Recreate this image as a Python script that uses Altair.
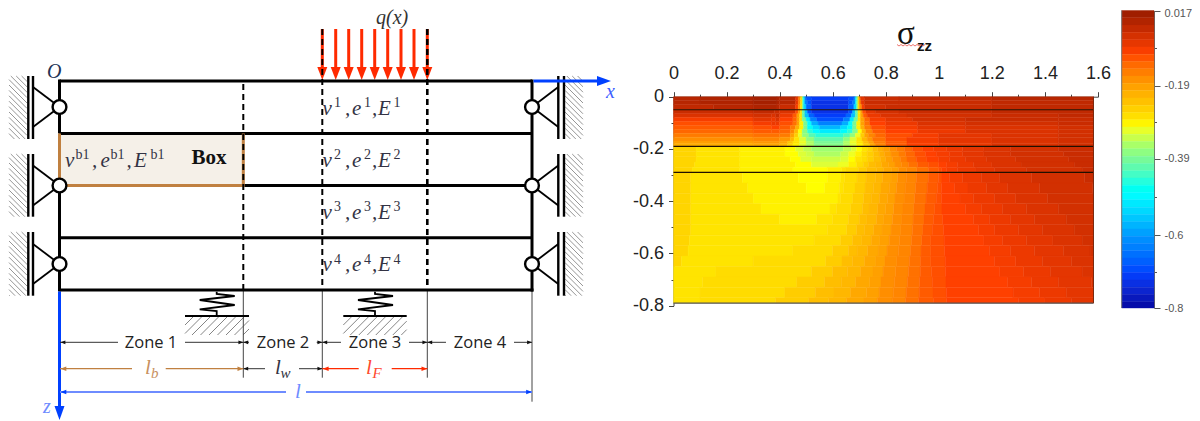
import altair as alt
import pandas as pd

# ---------- contour plot data: stress (x100) in bands, one list per depth row ----------
row_edges = [0, .015, .03, .05, .065, .08, .095, .11, .125, .14, .155, .17, .18, .19, .21, .23, .25, .27, .29,
             .33, .37, .41, .45, .49, .53, .57, .61, .65, .69, .73, .77, .79]
band_rows = [
 [(.1,-1),(.3,0),(.39,1),(.40,0),(.46,-1),(.47,-6),(.478,-14),(.485,-26),(.49,-38),(.495,-50),(.50,-62),(.52,-68),(.66,-70),(.68,-68),(.685,-62),(.69,-50),(.695,-38),(.70,-26),(.705,-14),(.72,-6),(.85,-3),(1.2,-2),(1.583,-1)],
 [(.1,-1),(.3,0),(.39,1),(.40,0),(.46,-1),(.47,-6),(.478,-14),(.485,-26),(.49,-38),(.495,-50),(.505,-62),(.52,-68),(.66,-72),(.675,-68),(.685,-62),(.69,-50),(.695,-38),(.70,-26),(.707,-14),(.72,-6),(.85,-3),(1.2,-3),(1.583,-2)],
 [(.15,-2),(.3,-1),(.39,0),(.40,-1),(.46,-3),(.47,-8),(.478,-16),(.485,-27),(.49,-38),(.5,-52),(.52,-66),(.66,-72),(.68,-66),(.69,-52),(.695,-38),(.70,-27),(.71,-16),(.72,-8),(.8,-4),(1.2,-3),(1.583,-2)],
 [(.3,-3),(.38,-2),(.40,-3),(.46,-5),(.47,-10),(.478,-18),(.485,-27),(.495,-40),(.505,-55),(.52,-68),(.66,-72),(.675,-68),(.685,-55),(.695,-40),(.705,-27),(.712,-18),(.725,-10),(.76,-6),(.85,-4),(1.2,-3),(1.583,-2)],
 [(.3,-5),(.37,-4),(.385,-5),(.40,-3),(.45,-7),(.465,-11),(.475,-18),(.485,-27),(.495,-40),(.51,-55),(.53,-66),(.65,-70),(.67,-66),(.685,-55),(.695,-40),(.705,-27),(.715,-18),(.73,-11),(.78,-7),(.88,-5),(1.2,-4),(1.45,-3),(1.583,-2)],
 [(.3,-8),(.37,-6),(.385,-7),(.40,-5),(.45,-9),(.465,-12),(.475,-18),(.485,-27),(.5,-38),(.515,-50),(.54,-62),(.64,-68),(.665,-62),(.68,-50),(.695,-38),(.705,-27),(.72,-18),(.74,-12),(.8,-8),(.9,-6),(1.1,-4),(1.45,-3),(1.583,-3)],
 [(.3,-10),(.37,-8),(.385,-7),(.40,-7),(.45,-10),(.465,-13),(.475,-18),(.49,-28),(.505,-38),(.52,-48),(.545,-57),(.635,-62),(.66,-57),(.675,-48),(.69,-38),(.705,-28),(.72,-18),(.74,-13),(.8,-9),(.92,-7),(1.1,-5),(1.45,-4),(1.583,-3)],
 [(.3,-11),(.37,-10),(.40,-9),(.44,-11),(.46,-14),(.475,-20),(.49,-28),(.505,-38),(.525,-47),(.55,-52),(.63,-56),(.655,-52),(.675,-47),(.69,-38),(.705,-28),(.72,-20),(.745,-14),(.8,-10),(.92,-8),(1.1,-6),(1.45,-5),(1.583,-4)],
 [(.3,-12),(.37,-11),(.40,-11),(.44,-12),(.455,-15),(.47,-21),(.485,-29),(.505,-37),(.525,-44),(.55,-48),(.63,-50),(.655,-48),(.675,-44),(.695,-37),(.71,-29),(.725,-21),(.75,-15),(.8,-11),(.92,-9),(1.1,-7),(1.45,-5),(1.583,-4)],
 [(.3,-14),(.4,-13),(.44,-14),(.455,-18),(.47,-24),(.485,-30),(.51,-36),(.535,-41),(.64,-44),(.665,-41),(.685,-36),(.705,-30),(.72,-24),(.735,-18),(.76,-15),(.8,-12),(.9,-10),(1.0,-8),(1.2,-6),(1.45,-5),(1.583,-4)],
 [(.3,-16),(.4,-15),(.44,-17),(.455,-21),(.475,-27),(.5,-31),(.53,-36),(.64,-40),(.665,-36),(.69,-31),(.71,-27),(.73,-21),(.75,-17),(.8,-13),(.88,-10),(1.0,-8),(1.2,-6),(1.45,-5),(1.583,-4)],
 [(.3,-18),(.4,-17),(.43,-19),(.45,-23),(.475,-27),(.5,-30),(.53,-34),(.64,-38),(.665,-34),(.69,-30),(.715,-27),(.735,-22),(.755,-18),(.8,-14),(.88,-11),(1.0,-8),(1.2,-6),(1.45,-5),(1.583,-4)],
 [(.3,-20),(.4,-19),(.43,-21),(.45,-25),(.475,-28),(.5,-31),(.53,-34),(.64,-37),(.665,-34),(.69,-31),(.715,-28),(.74,-24),(.76,-19),(.8,-15),(.88,-11),(1.0,-9),(1.2,-7),(1.45,-5),(1.583,-4)],
 [(.085,-25),(.25,-27),(.42,-28),(.46,-29),(.49,-31),(.52,-33),(.64,-35),(.67,-33),(.69,-31),(.71,-29),(.73,-27),(.75,-25),(.77,-22),(.79,-20),(.815,-18),(.84,-16),(.87,-14),(.9,-12),(.94,-10),(.98,-9),(1.03,-8),(1.09,-7),(1.17,-6),(1.27,-5),(1.45,-4),(1.583,-3)],
 [(.085,-25),(.25,-27),(.42,-28),(.47,-29),(.5,-31),(.53,-32),(.63,-34),(.66,-32),(.685,-30),(.71,-28),(.73,-26),(.755,-24),(.775,-22),(.795,-20),(.82,-18),(.85,-16),(.875,-14),(.91,-12),(.95,-10),(.99,-9),(1.04,-8),(1.09,-7),(1.17,-6),(1.27,-5),(1.47,-4),(1.583,-3)],
 [(.085,-25),(.25,-27),(.44,-28),(.48,-29),(.52,-31),(.63,-32),(.66,-31),(.685,-29),(.71,-27),(.73,-26),(.755,-24),(.78,-22),(.8,-20),(.825,-18),(.855,-16),(.88,-14),(.915,-12),(.955,-10),(1.0,-9),(1.04,-8),(1.1,-7),(1.18,-6),(1.29,-5),(1.49,-4),(1.583,-3)],
 [(.08,-25),(.25,-27),(.46,-28),(.52,-29),(.62,-31),(.66,-30),(.69,-28),(.715,-26),(.735,-24),(.76,-22),(.785,-21),(.81,-19),(.835,-18),(.86,-16),(.885,-15),(.92,-13),(.96,-11),(1.0,-10),(1.03,-9),(1.07,-8),(1.13,-7),(1.2,-6),(1.31,-5),(1.51,-4),(1.583,-3)],
 [(.07,-25),(.25,-27),(.45,-28),(.58,-29),(.634,-28),(.65,-27),(.697,-26),(.728,-24),(.766,-22),(.791,-21),(.823,-19),(.848,-18),(.879,-16),(.917,-15),(.961,-13),(1.0,-11),(1.01,-10),(1.03,-9),(1.07,-8),(1.14,-7),(1.21,-6),(1.33,-5),(1.54,-4),(1.583,-3)],
 [(.065,-25),(.26,-27),(.47,-28),(.58,-29),(.63,-28),(.645,-27),(.692,-26),(.726,-24),(.762,-22),(.788,-21),(.82,-19),(.845,-18),(.877,-16),(.915,-15),(.96,-13),(.998,-11),(1.012,-10),(1.04,-9),(1.09,-8),(1.16,-7),(1.23,-6),(1.35,-5),(1.55,-4),(1.583,-3)],
 [(.065,-25),(.28,-27),(.50,-28),(.57,-29),(.625,-28),(.64,-27),(.684,-26),(.722,-24),(.753,-22),(.782,-21),(.813,-19),(.84,-18),(.873,-16),(.912,-15),(.956,-13),(.995,-11),(1.01,-10),(1.06,-9),(1.11,-8),(1.18,-7),(1.26,-6),(1.38,-5),(1.58,-4),(1.583,-3)],
 [(.065,-25),(.30,-27),(.62,-28),(.63,-27),(.676,-26),(.717,-24),(.745,-22),(.776,-21),(.807,-19),(.835,-18),(.869,-16),(.909,-15),(.952,-13),(.99,-11),(1.01,-10),(1.08,-9),(1.13,-8),(1.21,-7),(1.29,-6),(1.41,-5),(1.583,-4)],
 [(.065,-25),(.33,-27),(.59,-28),(.615,-27),(.668,-26),(.712,-24),(.737,-22),(.77,-21),(.80,-19),(.83,-18),(.865,-16),(.906,-15),(.948,-13),(.985,-11),(1.012,-10),(1.10,-9),(1.16,-8),(1.24,-7),(1.33,-6),(1.45,-5),(1.583,-4)],
 [(.065,-25),(.40,-27),(.54,-28),(.60,-27),(.66,-26),(.70,-24),(.729,-22),(.765,-21),(.793,-19),(.825,-18),(.861,-16),(.903,-15),(.944,-13),(.98,-11),(1.015,-10),(1.13,-9),(1.19,-8),(1.27,-7),(1.36,-6),(1.48,-5),(1.583,-4)],
 [(.065,-25),(.58,-27),(.653,-26),(.69,-24),(.72,-22),(.755,-21),(.786,-19),(.82,-18),(.857,-16),(.90,-15),(.94,-13),(.975,-11),(1.018,-10),(1.15,-9),(1.21,-8),(1.30,-7),(1.39,-6),(1.51,-5),(1.583,-4)],
 [(.06,-25),(.53,-27),(.63,-26),(.675,-24),(.71,-22),(.745,-21),(.778,-19),(.813,-18),(.852,-16),(.897,-15),(.936,-13),(.97,-11),(1.02,-10),(1.17,-9),(1.24,-8),(1.33,-7),(1.43,-6),(1.54,-5),(1.583,-4)],
 [(.055,-25),(.45,-27),(.60,-26),(.66,-24),(.692,-22),(.732,-21),(.771,-19),(.805,-18),(.847,-16),(.893,-15),(.933,-13),(.97,-11),(1.022,-10),(1.19,-9),(1.27,-8),(1.36,-7),(1.47,-6),(1.57,-5),(1.583,-4)],
 [(.03,-25),(.30,-27),(.574,-26),(.635,-24),(.675,-22),(.72,-21),(.763,-19),(.797,-18),(.842,-16),(.889,-15),(.931,-13),(.97,-11),(1.024,-10),(1.21,-9),(1.29,-8),(1.39,-7),(1.50,-6),(1.583,-5)],
 [(.16,-27),(.52,-26),(.60,-24),(.655,-22),(.705,-21),(.752,-19),(.79,-18),(.837,-16),(.885,-15),(.93,-13),(.972,-11),(1.025,-10),(1.23,-9),(1.32,-8),(1.42,-7),(1.54,-6),(1.583,-5)],
 [(.11,-27),(.465,-26),(.57,-24),(.632,-22),(.687,-21),(.74,-19),(.782,-18),(.832,-16),(.881,-15),(.928,-13),(.975,-11),(1.027,-10),(1.26,-9),(1.35,-8),(1.45,-7),(1.575,-6),(1.583,-5)],
 [(.10,-27),(.42,-26),(.535,-24),(.605,-22),(.667,-21),(.728,-19),(.775,-18),(.828,-16),(.877,-15),(.926,-13),(.978,-11),(1.028,-10),(1.28,-9),(1.38,-8),(1.48,-7),(1.583,-6)],
 [(.10,-27),(.385,-26),(.51,-24),(.585,-22),(.652,-21),(.718,-19),(.768,-18),(.824,-16),(.874,-15),(.924,-13),(.98,-11),(1.03,-10),(1.30,-9),(1.40,-8),(1.50,-7),(1.583,-6)],
]
layer_depths = [-0.05, -0.19, -0.29]
x_ticks = [0, .1, .2, .3, .4, .5, .6, .7, .8, .9, 1, 1.1, 1.2, 1.3, 1.4, 1.5, 1.6]
y_ticks = [0, -.1, -.2, -.3, -.4, -.5, -.6, -.7, -.8]
plot_end_x = 1.583
plot_end_y = -0.79

# colour bar
cb_edges = [0.017, -0.003, -0.023, -0.043, -0.063, -0.083, -0.103, -0.123, -0.143, -0.163, -0.183, -0.203, -0.223,
            -0.243, -0.263, -0.283, -0.303, -0.323, -0.343, -0.363, -0.383, -0.403, -0.423, -0.443, -0.463, -0.483,
            -0.503, -0.523, -0.543, -0.563, -0.583, -0.603, -0.623, -0.643, -0.663, -0.683, -0.703, -0.723, -0.743,
            -0.763, -0.783, -0.8]
cb_ticks = [0.017, -0.0865, -0.19, -0.29, -0.39, -0.495, -0.6, -0.7, -0.8]
cb_major = "[0.017,-0.19,-0.39,-0.6,-0.8]"
stress_stops = [-0.8, -0.695, -0.6, -0.476, -0.39, -0.29, -0.27, -0.19, -0.09, 0.017]
stress_colours = ["#00009A", "#0040FF", "#0090FF", "#00FFFF", "#70F8A0", "#FFFF00", "#FFE400", "#FFA800", "#FF4000", "#A01E00"]

# ---------- schematic geometry, in the schematic's own units ----------
bar_left, bar_right = 59.5, 532
bar_levels = [81, 133.5, 185.5, 237.7, 290]
dash_xs = [243.3, 322.3, 427.3]
load_xs = [322.3, 335.7, 348.7, 361.7, 374.7, 387.7, 401, 414, 427.3]
pin_levels = [107, 185.5, 264]
wall_spans = [(76, 139), (154, 216.7), (232, 295.7)]
spring_centres = [(216.7, 185, 249), (375, 343.3, 406.7)]
spring_offsets = [(0, 291.7), (0, 294), (18, 296), (-17, 300), (18, 305), (-17, 309.3), (0, 311), (0, 316)]
black_dim = [(60, 118, 342.3), (185, 243.3, 342.3), (243.3, 249, 342.3), (316.7, 322.3, 342.3), (322.3, 341, 342.3),
             (409, 427.3, 342.3), (427.3, 446, 342.3), (514, 532, 342.3), (243.3, 265, 368.7), (299, 322.3, 368.7)]
brown_dim = [(60, 132, 368.7), (165.7, 243.3, 368.7)]
red_dim = [(322.3, 358.7, 368.7), (391.7, 427.3, 368.7)]
blue_dim = [(60, 286, 392), (306, 532, 392)]
zone_labels = [("Zone 1", 151), ("Zone 2", 283), ("Zone 3", 375), ("Zone 4", 480)]
prop_rows = [("1", 114.5), ("2", 166.5), ("3", 218.5), ("4", 271)]

BLACK, BROWN, RED, BLUE, PALEBLUE = "#000000", "#C08040", "#FF2A00", "#0040FF", "#6E8CFF"
SERIF, SANS = "Liberation Serif", "Liberation Sans"
W, H = 1184, 413
ox, oy = 8, 8
sx = alt.Scale(domain=[ox, ox + W], range=[0, W], nice=False, zero=False)
sy = alt.Scale(domain=[oy, oy + H], range=[0, H], nice=False, zero=False)


def X(f="x"):
    return alt.X(f"{f}:Q", scale=sx, axis=None)


def Y(f="y"):
    return alt.Y(f"{f}:Q", scale=sy, axis=None)


def segs(rows, colour, width, dash=None):
    df = pd.DataFrame(rows, columns=["x", "y", "x2", "y2"])
    kw = {"strokeDash": dash} if dash else {}
    return alt.Chart(df).mark_rule(color=colour, strokeWidth=width, **kw).encode(
        x=X(), y=Y(), x2="x2:Q", y2="y2:Q")


def heads(rows, shape, colour, size):
    df = pd.DataFrame(rows, columns=["x", "y"])
    return alt.Chart(df).mark_point(shape=shape, filled=True, fill=colour, stroke=None, opacity=1, size=size).encode(
        x=X(), y=Y())


def text(rows, size, colour, font=SERIF, style="italic", weight="normal", align="left"):
    df = pd.DataFrame(rows, columns=["t", "x", "y"])
    return alt.Chart(df).mark_text(fontSize=size, color=colour, font=font, fontStyle=style, fontWeight=weight,
                                   align=align, baseline="alphabetic").encode(x=X(), y=Y(), text="t:N")


def hatch(x0, x1, y0, y1, step, down=True):
    out = []
    dx = x1 - x0
    c = y0 - dx
    while c < y1:
        xa, ya, xb, yb = x0, c, x1, c + dx
        if ya < y0:
            xa, ya = x0 + (y0 - c), y0
        if yb > y1:
            xb, yb = x0 + (y1 - c), y1
        if down:
            out.append((xa, ya, xb, yb))
        else:
            out.append((x0 + x1 - xa, ya, x0 + x1 - xb, yb))
        c += step
    return out


TIP_DOWN = "M-1,-2.6L1,-2.6L0,0Z"
TIP_RIGHT = "M-2.6,-1L-2.6,1L0,0Z"
TIP_LEFT = "M2.6,-1L2.6,1L0,0Z"

layers = []
# box fill
layers.append(alt.Chart(pd.DataFrame({"x": [59.5], "x2": [243.3], "y": [133.5], "y2": [185.5]}))
              .mark_rect(color="#F5F0E8").encode(x=X(), x2="x2:Q", y=Y(), y2="y2:Q"))
# hatch
wall_hatch = []
for a, b in wall_spans:
    wall_hatch += hatch(9, 27, a, b, 5.4)
    wall_hatch += hatch(565, 583, a, b, 5.4)
ground = []
for c, a, b in spring_centres:
    ground += hatch(a, b, 316.5, 335, 8.5, down=False)
layers.append(segs(wall_hatch, "#8A8A8A", 0.9))
layers.append(segs(ground, "#777777", 0.9))
# walls
walls = []
for a, b in wall_spans:
    walls += [(28.3, a, 28.3, b), (33, a, 33, b), (558.3, a, 558.3, b), (564, a, 564, b)]
layers.append(segs(walls, BLACK, 2.4))
braces = []
for p in pin_levels:
    braces += [(33, p - 20, bar_left, p), (33, p + 20, bar_left, p), (558.3, p - 20, bar_right, p), (558.3, p + 20, bar_right, p)]
layers.append(segs(braces, BLACK, 1.8))
# thin witness lines
layers.append(segs([(243.3, 290, 243.3, 377.7), (322.3, 290, 322.3, 377.7), (427.3, 290, 427.3, 377.7),
                    (532, 290, 532, 401.7)], "#444444", 1))
# load arrows
layers.append(segs([(x, 29, x, 70) for x in load_xs], RED, 3))
layers.append(heads([(x, 80) for x in load_xs], TIP_DOWN, RED, 100))
# bars
layers.append(segs([(bar_left, bar_levels[0], bar_right, bar_levels[0]),
                    (bar_left, bar_levels[1], bar_right, bar_levels[1]),
                    (243.3, bar_levels[2], bar_right, bar_levels[2]),
                    (bar_left, bar_levels[3], bar_right, bar_levels[3]),
                    (bar_left, bar_levels[4], bar_right + 1.5, bar_levels[4]),
                    (bar_left, 79.5, bar_left, 133.5), (bar_left, 185.5, bar_left, 291.5),
                    (bar_right, 79.5, bar_right, 291.5)], BLACK, 3))
layers.append(segs([(bar_left, 133.5, bar_left, 185.5), (bar_left - 1, 185.5, 243.3, 185.5),
                    (243.3, 133.5, 243.3, 187)], BROWN, 3))
# dashed lines
layers.append(segs([(243.3, 84, 243.3, 290), (322.3, 29, 322.3, 290)], BLACK, 2, [6, 4]))
layers.append(segs([(427.3, 29, 427.3, 290)], BLACK, 2.6, [6, 4]))
# axes
layers.append(segs([(533.5, 81, 600, 81), (bar_left, 291.5, bar_left, 410)], BLUE, 3))
layers.append(heads([(611, 81)], "M-2.8,-1L-2.8,1L0,0Z", BLUE, 100))
layers.append(heads([(bar_left, 420)], "M-1,-2.8L1,-2.8L0,0Z", BLUE, 100))
# pins
pins = pd.DataFrame([(x, p) for x in (bar_left, bar_right) for p in pin_levels], columns=["x", "y"])
layers.append(alt.Chart(pins).mark_point(shape="circle", filled=True, fill="white", stroke=BLACK, strokeWidth=2.4,
                                         opacity=1, size=190).encode(x=X(), y=Y()))
# springs
for c, a, b in spring_centres:
    df = pd.DataFrame([(c + dx, y, i) for i, (dx, y) in enumerate(spring_offsets)], columns=["x", "y", "i"])
    layers.append(alt.Chart(df).mark_line(color=BLACK, strokeWidth=1.8).encode(x=X(), y=Y(), order="i:Q"))
    layers.append(segs([(a, 316, b, 316)], BLACK, 2))
# dimensions
layers.append(segs([(a, y, b, y) for a, b, y in black_dim], "#333333", 1))
layers.append(segs([(a, y, b, y) for a, b, y in brown_dim], BROWN, 1.2))
layers.append(segs([(a, y, b, y) for a, b, y in red_dim], RED, 1.2))
layers.append(segs([(a, y, b, y) for a, b, y in blue_dim], PALEBLUE, 2))
zone_right = [(243.3, 342.3), (322.3, 342.3), (427.3, 342.3), (532, 342.3), (322.3, 368.7)]
zone_left = [(60.5, 342.3), (243.3, 342.3), (322.3, 342.3), (427.3, 342.3), (243.3, 368.7)]
layers.append(heads(zone_right, TIP_RIGHT, "#111111", 14))
layers.append(heads(zone_left, TIP_LEFT, "#111111", 14))
layers.append(heads([(243.3, 368.7)], TIP_RIGHT, BROWN, 20))
layers.append(heads([(60.5, 368.7)], TIP_LEFT, BROWN, 20))
layers.append(heads([(427.3, 368.7)], TIP_RIGHT, RED, 20))
layers.append(heads([(322.8, 368.7)], TIP_LEFT, RED, 20))
layers.append(heads([(532, 392)], TIP_RIGHT, BLUE, 20))
layers.append(heads([(60.5, 392)], TIP_LEFT, BLUE, 20))
# labels
layers.append(text([(z, x, 348) for z, x in zone_labels], 16.5, "#222222", font="Open Sans", style="normal", align="center"))
layers.append(text([("O", 47, 78)], 20, "#223355"))
layers.append(text([("q(x)", 376, 24)], 20, "#333333"))
layers.append(text([("x", 606, 98)], 20, "#4060FF"))
layers.append(text([("z", 43, 412.7)], 20, "#6E8CFF"))
main_t, sup_t = [], []
for s, y in prop_rows:
    main_t += [("v", 322.5, y), (",", 345, y), ("e", 352, y), (",", 372, y), ("E", 378, y)]
    sup_t += [(s, 334, y - 7.5), (s, 364, y - 7.5), (s, 393.5, y - 7.5)]
main_t += [("v", 65, 166.5), (",", 92, 166.5), ("e", 100.5, 166.5), (",", 126.5, 166.5), ("E", 134, 166.5)]
sup_t += [("b1", 75.5, 159), ("b1", 110.5, 159), ("b1", 150.5, 159)]
layers.append(text(main_t, 21, "#333344"))
layers.append(text(sup_t, 14, "#333344", style="normal"))
layers.append(text([("Box", 191.5, 163.5)], 21, "#111111", style="normal", weight="bold"))
layers.append(text([("l", 145, 374), ("l", 275, 374), ("l", 366, 374), ("l", 295, 398)], 21, "#333344").encode(
    color=alt.Color("c:N", scale=None, legend=None)).transform_calculate(
    c="datum.x==145 ? '#C89060' : datum.x==366 ? '#FF4A30' : datum.x==295 ? '#6E8CFF' : '#333344'"))
layers.append(text([("b", 151, 378)], 15, "#C89060"))
layers.append(text([("w", 280.5, 378)], 15, "#333344"))
layers.append(text([("F", 372.5, 378)], 15, "#FF4A30"))
# title of the contour plot
layers.append(text([("σ", 897, 44)], 33, "#111111", style="normal"))
layers.append(text([("zz", 917, 50.7)], 15, "#111111", font=SANS, style="normal", weight="bold"))
wave = pd.DataFrame([(897 + 2 * i, 44.5 + (i % 2) * 1.5, i) for i in range(15)], columns=["x", "y", "i"])
layers.append(alt.Chart(wave).mark_line(color="#E8504A", strokeWidth=0.8).encode(x=X(), y=Y(), order="i:Q"))

schematic = alt.layer(*layers)

# ---------- contour plot ----------
cells = []
for i, row in enumerate(band_rows):
    start = 0.0
    for end, v in row:
        cells.append((start, end, -row_edges[i], -row_edges[i + 1], v / 100))
        start = end
cells = pd.DataFrame(cells, columns=["x0", "x1", "y0", "y1", "s"])

hx = alt.Scale(domain=[0, 1.6], range=[673.5 - ox, 1098 - ox], nice=False, zero=False)
hy = alt.Scale(domain=[0, -0.8], range=[96.7 - oy, 305.7 - oy], nice=False, zero=False)
major5 = "abs(datum.value*5-round(datum.value*5))<0.001"
hyphen = "replace(datum.label,'\u2212','-')"
xaxis = alt.Axis(orient="top", offset=-(96.7 - oy), values=x_ticks, title=None, grid=False, labelExpr=f"{major5} ? datum.label : ''",
                 tickSize={"condition": {"test": major5, "value": 5}, "value": 2.5},
                 labelFont=SANS, labelFontSize=18, labelColor="#222222", labelPadding=9, labelOverlap=False,
                 labelFlush=False, domainColor="#444444", tickColor="#444444", format=".2~g")
yaxis = alt.Axis(orient="left", offset=-(673.5 - ox), values=y_ticks, title=None, grid=False, labelExpr=f"{major5} ? {hyphen} : ''",
                 tickSize={"condition": {"test": major5, "value": 5}, "value": 2.5},
                 labelFont=SANS, labelFontSize=18, labelColor="#222222", labelPadding=5, labelOverlap=False,
                 labelFlush=False, domainColor="#444444", tickColor="#444444", format=".2~g")
colour_scale = alt.Scale(domain=stress_stops, range=stress_colours)
HX = alt.X("x:Q", scale=hx, axis=xaxis)
HY = alt.Y("y:Q", scale=hy, axis=yaxis)
rects = alt.Chart(cells).mark_rect(strokeWidth=0.4).encode(
    x=alt.X("x0:Q", scale=hx, axis=xaxis), x2="x1:Q",
    y=alt.Y("y0:Q", scale=hy, axis=yaxis), y2="y1:Q",
    color=alt.Color("s:Q", scale=colour_scale, legend=None),
    stroke=alt.Stroke("s:Q", scale=colour_scale, legend=None))
interfaces = alt.Chart(pd.DataFrame({"y": layer_depths, "x": 0, "x2": plot_end_x})).mark_rule(color="#201000", strokeWidth=1.2).encode(
    x=HX, x2="x2:Q", y=HY)
edge_b = alt.Chart(pd.DataFrame({"y": [plot_end_y], "x": 0, "x2": plot_end_x})).mark_rule(color="#555555", strokeWidth=1.4).encode(
    x=HX, x2="x2:Q", y=HY)
edge_r = alt.Chart(pd.DataFrame({"x": [plot_end_x], "y": plot_end_y, "y2": 0})).mark_rule(color="#7A2A10", strokeWidth=1).encode(
    x=HX, y=HY, y2="y2:Q")
heat = alt.layer(rects, interfaces, edge_b, edge_r)

# ---------- colour bar ----------
cb = pd.DataFrame({"top": cb_edges[:-1], "bottom": cb_edges[1:], "x": 0, "x2": 1})
cx = alt.Scale(domain=[0, 1], range=[1121.7 - ox, 1154 - ox], nice=False, zero=False)
cy = alt.Scale(domain=[0.017, -0.8], range=[10.5 - oy, 308 - oy], nice=False, zero=False)
test = f"indexof({cb_major},datum.value)>=0"
cbaxis = alt.Axis(orient="right", offset=-(W - (1154 - ox)), values=cb_ticks, title=None, grid=False,
                  labelExpr=f"{test} ? {hyphen} : ''",
                  tickSize={"condition": {"test": test, "value": 6}, "value": 2.5},
                  labelFont=SANS, labelFontSize=11, labelColor="#555555", labelPadding=4, labelOverlap=False,
                  labelFlush=False, domainColor="#666666", tickColor="#555555", format=".3~g",
                  labelOffset={"condition": {"test": "datum.value==0.017", "value": 3}, "value": 0})
cb_rect = alt.Chart(cb).mark_rect(strokeWidth=0.4).encode(
    x=alt.X("x:Q", scale=cx, axis=None), x2="x2:Q",
    y=alt.Y("top:Q", scale=cy, axis=cbaxis), y2="bottom:Q",
    color=alt.Color("top:Q", scale=colour_scale, legend=None),
    stroke=alt.Stroke("top:Q", scale=colour_scale, legend=None))
cb_edge = alt.Chart(pd.DataFrame({"x": [0], "y": [0.017], "y2": [-0.8]})).mark_rule(color="#777777", strokeWidth=1).encode(
    x=alt.X("x:Q", scale=cx, axis=None), y=alt.Y("y:Q", scale=cy, axis=cbaxis), y2="y2:Q")
colourbar = alt.layer(cb_rect, cb_edge)

chart = alt.layer(schematic, heat, colourbar).resolve_scale(
    x="independent", y="independent", color="independent", stroke="independent"
).properties(width=W, height=H, padding=0, background="white",
             autosize=alt.AutoSizeParams(type="none")).configure_view(stroke=None)

chart.save("out.html", embed_options={"renderer": "svg", "actions": False})
